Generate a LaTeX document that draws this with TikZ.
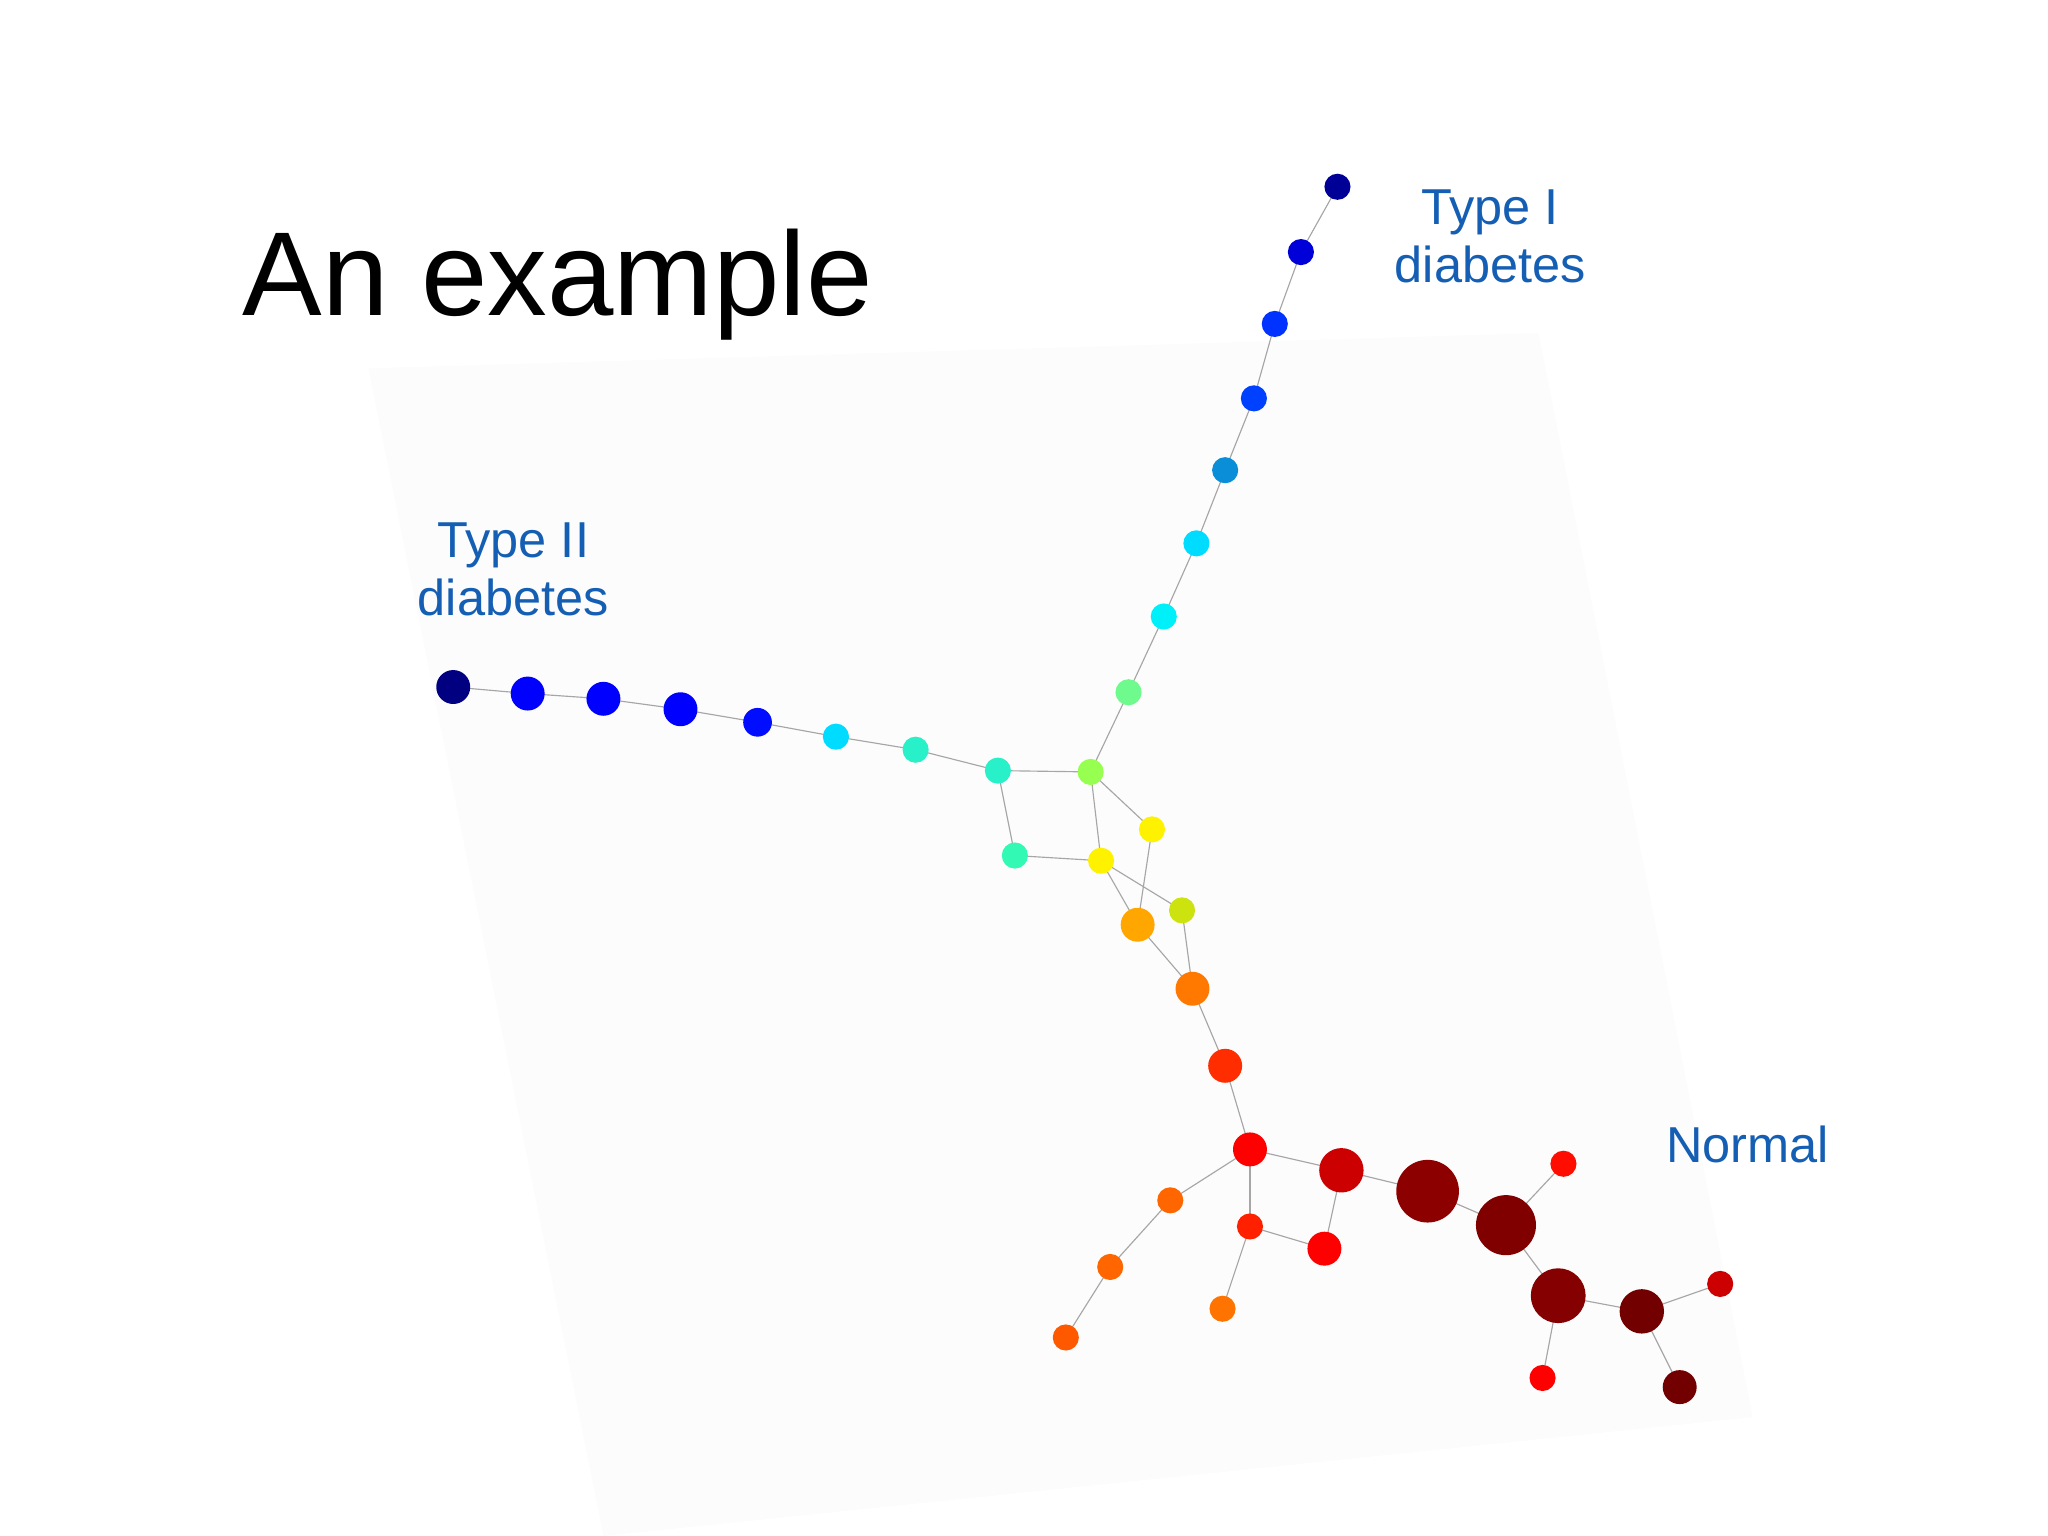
\documentclass[tikz,border=0pt]{standalone}
\usepackage{fontspec}
\setmainfont{Liberation Sans}
\usetikzlibrary{backgrounds}
\definecolor{lab}{RGB}{20,95,180}
\definecolor{navy}{RGB}{0,0,150}
\definecolor{cya}{RGB}{0,220,255}
\definecolor{cyb}{RGB}{0,240,250}
\definecolor{teal1}{RGB}{40,240,200}
\definecolor{teal2}{RGB}{50,250,180}
\definecolor{grn1}{RGB}{110,250,140}
\definecolor{grn2}{RGB}{150,255,80}
\begin{document}
\begin{tikzpicture}[x=0.02cm,y=-0.02cm,
  dot/.style 2 args={circle,inner sep=0pt,minimum size=#1*0.04cm,fill=#2,draw=none},
  ed/.style={draw=gray!70,line width=0.5pt}]
\useasboundingbox (0,0) rectangle (1568,1176);
\node[font=\fontsize{52}{56}\selectfont] (title) at (427,218) {An example};
\node[lab,font=\fontsize{22}{25}\selectfont,align=center] (t1) at (1141,181) {Type I\\diabetes};
\node[lab,font=\fontsize{22}{25}\selectfont,align=center] (t2) at (393,436) {Type II\\diabetes};
\node[lab,font=\fontsize{22}{25}\selectfont] (nl) at (1338,876) {Normal};
% type I branch
\node[dot={10}{navy}] (a1) at (1024,143) {};
\node[dot={10}{blue!85!black}] (a2) at (996,193) {};
\node[dot={10}{blue!80!cyan}] (a3) at (976,248) {};
\node[dot={10}{blue!75!cyan}] (a4) at (960,305) {};
\node[dot={10}{cyan!75!blue}] (a5) at (938,360) {};
\node[dot={10}{cya}] (a6) at (916,416) {};
\node[dot={10}{cyb}] (a7) at (891,472) {};
\node[dot={10}{grn1}] (a8) at (864,530) {};
\node[dot={10}{grn2}] (c) at (835,591) {};
% type II branch
\node[dot={13}{blue!50!black}] (b1) at (347,526) {};
\node[dot={13}{blue}] (b2) at (404,531) {};
\node[dot={13}{blue}] (b3) at (462,535) {};
\node[dot={13}{blue}] (b4) at (521,543) {};
\node[dot={11}{blue!95!cyan}] (b5) at (580,553) {};
\node[dot={10}{cya}] (b6) at (640,564) {};
\node[dot={10}{teal1}] (b7) at (701,574) {};
\node[dot={10}{teal1}] (b8) at (764,590) {};
\node[dot={10}{teal2}] (m1) at (777,655) {};
\node[dot={10}{yellow}] (m2) at (843,659) {};
\node[dot={10}{yellow}] (m3) at (882,635) {};
\node[dot={10}{yellow!80!green}] (m4) at (905,697) {};
\node[dot={13}{orange!70!yellow}] (m5) at (871,708) {};
\node[dot={13}{orange!95!red}] (m6) at (913,757) {};
\node[dot={13}{red!65!orange}] (m7) at (938,816) {};
\node[dot={13}{red}] (h) at (957,880) {};
\node[dot={17}{red!80!black}] (n1) at (1027,896) {};
\node[dot={24}{red!55!black}] (n2) at (1093,912) {};
\node[dot={23}{red!50!black}] (n3) at (1153,938) {};
\node[dot={21}{red!52!black}] (n4) at (1193,992) {};
\node[dot={17}{red!45!black}] (n5) at (1257,1004) {};
\node[dot={13}{red!45!black}] (n6) at (1286,1062) {};
\node[dot={10}{red!80!black}] (n7) at (1317,983) {};
\node[dot={10}{red}] (n8) at (1181,1055) {};
\node[dot={10}{red!90!orange}] (n9) at (1197,891) {};
\node[dot={13}{red}] (s1) at (1014,956) {};
\node[dot={10}{red!75!orange}] (s2) at (957,939) {};
\node[dot={10}{orange!90!red}] (s3) at (936,1002) {};
\node[dot={10}{orange!80!red}] (l1) at (896,919) {};
\node[dot={10}{orange!80!red}] (l2) at (850,970) {};
\node[dot={10}{orange!70!red}] (l3) at (816,1024) {};
\begin{scope}[on background layer]
\fill[gray!2] (282,282) -- (1178,255) -- (1342,1085) -- (462,1176) -- cycle;
\foreach \u/\v in {a1/a2,a2/a3,a3/a4,a4/a5,a5/a6,a6/a7,a7/a8,a8/c,
 b1/b2,b2/b3,b3/b4,b4/b5,b5/b6,b6/b7,b7/b8,b8/c,b8/m1,m1/m2,c/m2,c/m3,m3/m5,m2/m5,m2/m4,m4/m6,m5/m6,m6/m7,m7/h,
 h/n1,n1/n2,n2/n3,n3/n9,n3/n4,n4/n5,n5/n7,n5/n6,n4/n8,n1/s1,h/s2,s2/s1,s2/s3,h/l1,l1/l2,l2/l3}
  \draw[ed] (\u.center) -- (\v.center);
\end{scope}
\end{tikzpicture}
\end{document}
